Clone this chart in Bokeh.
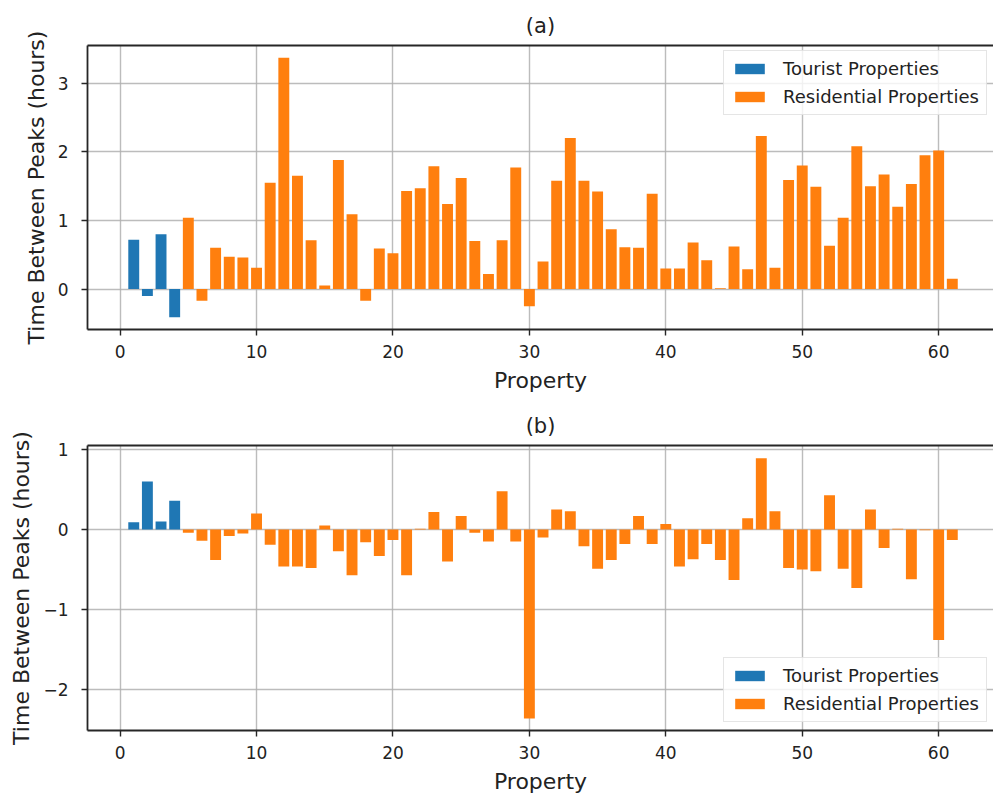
from bokeh.plotting import figure
from bokeh.models import (LinearAxis, Title, FixedTicker, Range1d, Legend,
                          LegendItem, ColumnDataSource)
from bokeh.layouts import column
from bokeh.embed import file_html
from bokeh.resources import INLINE

# Property indices
tourist_idx = [1, 2, 3, 4]
resid_idx = list(range(5, 62))

# (a) time between peaks, hours
a_tourist = [0.72, -0.10, 0.80, -0.41]
a_resid = [1.04, -0.17, 0.60, 0.47, 0.46, 0.31, 1.55, 3.37, 1.65, 0.71,
           0.05, 1.88, 1.09, -0.17, 0.59, 0.52, 1.43, 1.47, 1.79, 1.24,
           1.62, 0.70, 0.22, 0.71, 1.77, -0.25, 0.40, 1.58, 2.20, 1.58,
           1.42, 0.87, 0.61, 0.60, 1.39, 0.30, 0.30, 0.68, 0.42, 0.01,
           0.62, 0.29, 2.23, 0.31, 1.59, 1.80, 1.49, 0.63, 1.04, 2.08,
           1.50, 1.67, 1.20, 1.53, 1.95, 2.02, 0.15]

# (b) time between peaks, hours
b_tourist = [0.09, 0.60, 0.10, 0.36]
b_resid = [-0.04, -0.14, -0.38, -0.08, -0.05, 0.20, -0.19, -0.46, -0.46, -0.48,
           0.05, -0.27, -0.57, -0.16, -0.33, -0.13, -0.57, 0.01, 0.22, -0.40,
           0.17, -0.04, -0.15, 0.48, -0.15, -2.36, -0.10, 0.25, 0.23, -0.21,
           -0.49, -0.38, -0.18, 0.17, -0.18, 0.07, -0.46, -0.37, -0.18, -0.38,
           -0.63, 0.14, 0.89, 0.23, -0.48, -0.50, -0.52, 0.43, -0.49, -0.73,
           0.25, -0.23, 0.01, -0.62, -0.01, -1.38, -0.13]

x_ticks = [0, 10, 20, 30, 40, 50, 60]
a_yticks = [0, 1, 2, 3]
b_yticks = [-2, -1, 0, 1]

FONT = "DejaVu Sans"
BLUE = "#1f77b4"
ORANGE = "#ff7f0e"
SPINE = "#262626"


def panel(title, tourist, resid, yticks, yrange, legend_loc, height, bottom_border):
    p = figure(width=993, height=height, output_backend="svg", toolbar_location=None,
               x_range=Range1d(-2.39, 64.02), y_range=Range1d(*yrange),
               min_border_left=87, min_border_right=0, min_border_top=45,
               min_border_bottom=bottom_border, title=None)
    p.outline_line_color = None
    p.background_fill_color = "white"
    p.border_fill_color = "white"

    st = ColumnDataSource(dict(x=tourist_idx, top=tourist))
    sr = ColumnDataSource(dict(x=resid_idx, top=resid))
    r1 = p.vbar(x="x", top="top", bottom=0, width=0.8, source=st,
                fill_color=BLUE, line_color=None)
    r2 = p.vbar(x="x", top="top", bottom=0, width=0.8, source=sr,
                fill_color=ORANGE, line_color=None)

    # grid
    for g in (p.xgrid, p.ygrid):
        g.grid_line_color = "#b0b0b0"
        g.grid_line_width = 1.4
        g.grid_line_alpha = 0.85
    p.xgrid.ticker = FixedTicker(ticks=x_ticks)
    p.ygrid.ticker = FixedTicker(ticks=yticks)

    # axes
    p.xaxis.ticker = FixedTicker(ticks=x_ticks)
    p.yaxis.ticker = FixedTicker(ticks=yticks)
    p.yaxis.major_label_overrides = {t: ("\u2212" + str(-t) if t < 0 else str(t)) for t in yticks}
    p.xaxis.axis_label = "Property"
    p.yaxis.axis_label = "Time Between Peaks (hours)"
    for ax in (p.xaxis[0], p.yaxis[0]):
        ax.axis_line_color = SPINE
        ax.axis_line_width = 1.8
        ax.major_tick_line_color = SPINE
        ax.major_tick_line_width = 1.4
        ax.major_tick_out = 6
        ax.major_tick_in = 0
        ax.minor_tick_line_color = None
        ax.major_label_text_font = FONT
        ax.major_label_text_font_size = "17px"
        ax.major_label_text_color = "#222222"
        ax.axis_label_text_font = FONT
        ax.axis_label_text_font_size = "22px"
        ax.axis_label_text_font_style = "normal"
        ax.axis_label_text_color = "#222222"
    p.xaxis.major_label_standoff = 9
    p.xaxis.axis_label_standoff = 7
    p.yaxis.major_label_standoff = 13
    p.yaxis.axis_label_standoff = 6

    # top spine
    top_ax = LinearAxis(ticker=FixedTicker(ticks=[]), major_label_text_font_size="0px",
                        major_tick_out=0, major_tick_in=0, minor_tick_out=0, minor_tick_in=0,
                        major_label_standoff=0, axis_line_color=SPINE, axis_line_width=1.8)
    p.add_layout(top_ax, "above")
    p.add_layout(Title(text=title, align="center", text_font=FONT, text_font_size="21px",
                       text_font_style="normal", text_color="#222222", standoff=15), "above")

    legend = Legend(items=[LegendItem(label="Tourist Properties", renderers=[r1]),
                           LegendItem(label="Residential Properties", renderers=[r2])],
                    location=legend_loc, orientation="vertical",
                    label_text_font=FONT, label_text_font_size="18px",
                    label_text_color="#222222",
                    glyph_width=37, glyph_height=13, label_standoff=15,
                    label_height=20, spacing=7, padding=7, margin=0,
                    border_line_color="#cccccc", border_line_width=1,
                    background_fill_color="white", background_fill_alpha=0.8)
    p.add_layout(legend, "center")
    return p


# legend locations in frame pixels (from frame bottom-left)
p1 = panel("(a)", a_tourist, a_resid, a_yticks, (-0.59, 3.55), (636, 214), 400, 71)
p2 = panel("(b)", b_tourist, b_resid, b_yticks, (-2.51, 1.05), (636, 8), 396, 66)

layout = column(p1, p2, spacing=0)
open("out.html", "w").write(file_html(layout, INLINE))
